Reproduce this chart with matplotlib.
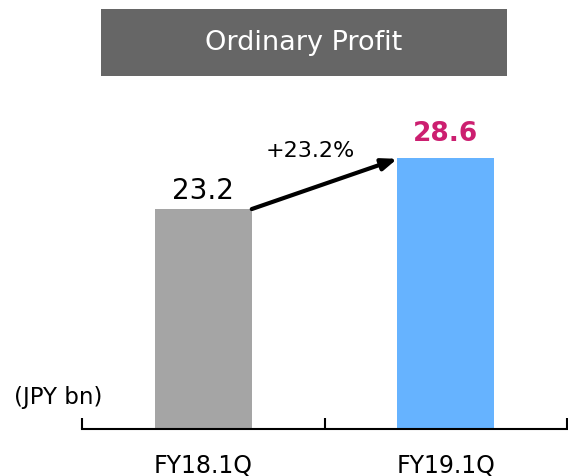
import matplotlib.pyplot as plt
from matplotlib.patches import Rectangle

categories = ['FY18.1Q', 'FY19.1Q']
values = [23.2, 28.6]
bar_colors = ['#a5a5a5', '#66b3ff']
growth_label = '+23.2%'
title = 'Ordinary Profit'
unit_label = '(JPY bn)'


def main():
    fig = plt.figure(figsize=(5.68, 4.77), dpi=100)

    # title box
    fig.patches.append(Rectangle((101 / 568, 1 - 77 / 477), 406 / 568, 67 / 477,
                                 transform=fig.transFigure, facecolor='#666666',
                                 edgecolor='none'))
    fig.text(304 / 568, 1 - 43 / 477, title, color='white', fontsize=19.5,
             ha='center', va='center')

    ax = fig.add_axes([82 / 568, 1 - 430 / 477, 485 / 568, 330 / 477])
    x = range(len(categories))
    ax.bar(x, values, width=0.4, color=bar_colors)
    ax.set_xlim(-0.5, 1.5)
    ax.set_ylim(0, 330 / 9.48)

    for spine in ['top', 'right', 'left']:
        ax.spines[spine].set_visible(False)
    ax.spines['bottom'].set_linewidth(1.5)
    ax.set_yticks([])
    ax.set_xticks([-0.5, 0.5, 1.5])
    ax.set_xticklabels([])
    ax.tick_params(axis='x', direction='in', length=8, width=1.5)
    for i, cat in enumerate(categories):
        ax.text(i, -3.75, cat, ha='center', va='center', fontsize=17)

    ax.text(0, values[0] + 0.5, f'{values[0]:.1f}', ha='center', va='bottom',
            fontsize=20)
    ax.text(1, values[1] + 1.3, f'{values[1]:.1f}', ha='center', va='bottom',
            fontsize=19, fontweight='bold', color='#cc1f70')

    ax.annotate('', xy=(0.8, values[1] - 0.1), xytext=(0.2, values[0]),
                arrowprops=dict(arrowstyle='-|>,head_length=0.9,head_width=0.35',
                                color='black', lw=3, shrinkA=0, shrinkB=0))
    ax.text(0.44, 29.4, growth_label, ha='center', va='center', fontsize=16)

    ax.text(-0.78, 3.4, unit_label, ha='left', va='center', fontsize=16.5,
            clip_on=False)

    fig.savefig('out.png')


if __name__ == '__main__':
    main()
